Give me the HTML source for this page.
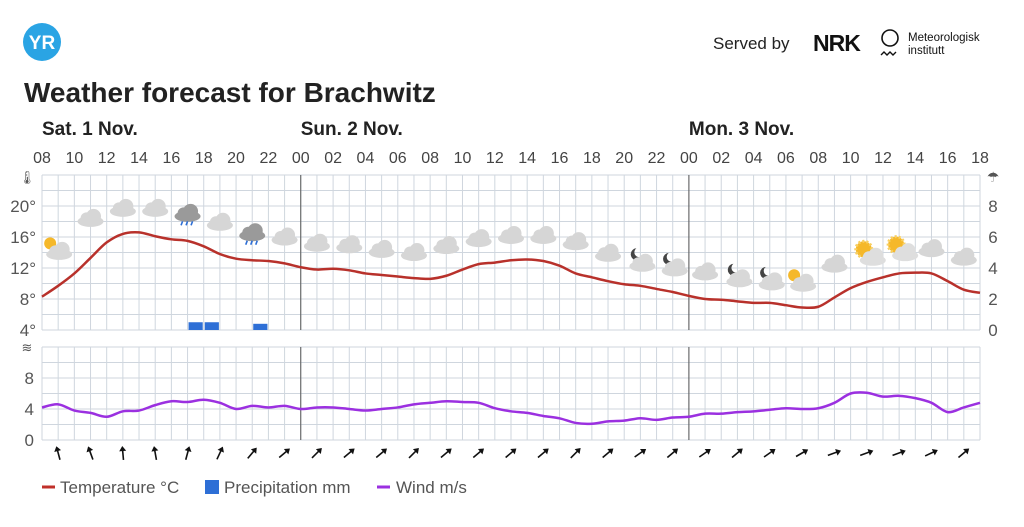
<!DOCTYPE html>
<html><head><meta charset="utf-8"><style>
body{margin:0;background:#fff;width:1024px;height:522px;overflow:hidden;font-family:"Liberation Sans",sans-serif}
svg text{font-family:"Liberation Sans",sans-serif}
</style></head><body>
<svg id="c" width="1024" height="522" xmlns="http://www.w3.org/2000/svg">
<g><circle cx="42" cy="42" r="19" fill="#2aa4e4"/><text x="42" y="49" font-size="19" font-weight="bold" fill="#fff" text-anchor="middle">YR</text></g>
<text x="713" y="49" font-size="17" fill="#222">Served by</text>
<text x="813" y="51" font-size="23" font-weight="900" fill="#111" letter-spacing="-1">NRK</text>
<g><circle cx="890" cy="38" r="8" fill="none" stroke="#111" stroke-width="1.6"/><path d="M881 55 l3-3 3 3 3-3 3 3 3-3" fill="none" stroke="#111" stroke-width="1.4"/>
<text x="908" y="41" font-size="11.5" fill="#111">Meteorologisk</text><text x="908" y="54" font-size="11.5" fill="#111">institutt</text></g>
<text x="24" y="102" font-size="28" font-weight="bold" fill="#222">Weather forecast for Brachwitz</text>
<g id="g"></g>
<g>
<line x1="42" y1="487" x2="55" y2="487" stroke="#c0302a" stroke-width="3"/><text x="60" y="493" font-size="17" fill="#555">Temperature °C</text>
<rect x="205" y="480" width="14" height="14" fill="#2e6fd6"/><text x="224" y="493" font-size="17" fill="#555">Precipitation mm</text>
<line x1="377" y1="487" x2="390" y2="487" stroke="#9b30e0" stroke-width="3"/><text x="396" y="493" font-size="17" fill="#555">Wind m/s</text>
</g>
</svg>
<script>
const hourLabels=["08","10","12","14","16","18","20","22","00","02","04","06","08","10","12","14","16","18","20","22","00","02","04","06","08","10","12","14","16","18"];
const dayLabels=["Sat. 1 Nov.","Sun. 2 Nov.","Mon. 3 Nov."];
const dayStartHours=[0,16,40];
const temps=[8.3,9.7,11.3,13.3,15.3,16.4,16.6,16.1,15.7,15.5,14.8,13.8,13.2,13.0,12.9,12.6,12.1,11.8,11.9,11.7,11.3,11.1,10.9,10.7,10.6,11.0,11.8,12.5,12.7,13.0,13.1,12.9,12.3,11.3,10.8,10.3,9.9,9.7,9.3,8.9,8.4,8.0,7.9,7.7,7.5,7.5,7.2,6.9,7.0,8.2,9.4,10.2,10.8,11.3,11.4,11.3,10.3,9.2,8.8];
const wind=[4.2,4.6,3.8,3.5,3.0,3.7,3.8,4.5,5.0,4.9,5.2,4.8,4.0,4.4,4.2,4.4,4.0,4.2,4.2,4.0,3.8,4.0,4.2,4.6,4.8,5.0,4.9,4.8,4.1,3.7,3.5,3.1,2.8,2.2,2.1,2.4,2.5,2.8,2.6,2.9,3.0,3.4,3.4,3.6,3.7,3.9,4.1,4.0,4.1,4.8,6.0,6.1,5.6,5.7,5.4,4.8,3.6,4.2,4.8];
const precipHours=[9,10,13];
const precipValues=[0.5,0.5,0.4];
const windDir=[-15,-20,-5,-10,15,25,40,50,45,50,50,45,50,50,50,50,45,50,55,50,55,50,55,60,70,70,70,65,50];
const icons=["ps","c","c","c","r","c","r","c","c","c","c","c","c","c","c","c","c","c","m","m","c","m","m","ps","c","s","s","c","c"];
const tempTicks=[4,8,12,16,20];const precTicks=[0,2,4,6,8];const windTicks=[0,4,8];
const NS="http://www.w3.org/2000/svg",G=document.getElementById('g');
const X0=42,X1=980,HRS=58;
const x=h=>X0+(X1-X0)*h/HRS;
const yT=t=>330-(t-4)*(155/20);
const yP=p=>330-p*(155/10);
const yW=w=>440-w*(93/12);
function mk(t,a,p){const e=document.createElementNS(NS,t);for(const k in a)e.setAttribute(k,a[k]);(p||G).appendChild(e);return e;}
function txt(s,a){const e=mk('text',a);e.textContent=s;return e;}
// grid
const grid=mk('g',{});


for(let h=0;h<=HRS;h++){mk('line',{x1:x(h),x2:x(h),y1:175,y2:330,stroke:'#cfd6de','stroke-width':1},grid);mk('line',{x1:x(h),x2:x(h),y1:347,y2:440,stroke:'#cfd6de','stroke-width':1},grid);}
for(let t=4;t<=24;t+=2)mk('line',{x1:X0,x2:X1,y1:yT(t),y2:yT(t),stroke:'#cfd6de'},grid);
for(let w=0;w<=12;w+=2)mk('line',{x1:X0,x2:X1,y1:yW(w),y2:yW(w),stroke:'#cfd6de'},grid);
dayStartHours.slice(1).forEach(h=>{mk('line',{x1:x(h),x2:x(h),y1:175,y2:330,stroke:'#555'},grid);mk('line',{x1:x(h),x2:x(h),y1:347,y2:440,stroke:'#555'},grid);});
// labels
hourLabels.forEach((l,i)=>{const e=txt(l,{x:x(i*2),y:163,'font-size':16,fill:'#444','text-anchor':'middle'});

});
dayLabels.forEach((l,i)=>{const e=txt(l,{x:x(dayStartHours[i]),y:135,'font-size':19,'font-weight':'bold',fill:'#222'});

});
tempTicks.forEach(t=>{const e=txt(t+'°',{x:36,y:yT(t)+6,'font-size':17,fill:'#555','text-anchor':'end'});

});
precTicks.forEach(t=>{const e=txt(t,{x:993,y:yP(t)+6,'font-size':17,fill:'#555','text-anchor':'middle'});

});
windTicks.forEach(t=>{const e=txt(t,{x:34,y:yW(t)+6,'font-size':17,fill:'#555','text-anchor':'end'});

});
txt('🌡',{x:27,y:182,'font-size':13,fill:'#555','text-anchor':'middle'});
txt('☂',{x:993,y:182,'font-size':14,fill:'#555','text-anchor':'middle'});
txt('≋',{x:27,y:352,'font-size':13,fill:'#555','text-anchor':'middle'});
// precip
precipHours.forEach((h,i)=>{const r=mk('rect',{x:x(h)+1,y:yP(precipValues[i]),width:x(1)-X0-2,height:330-yP(precipValues[i]),fill:'#2e6fd6'});

});
// smooth path
function path(vals,fy){let d='';const p=vals.map((v,i)=>[x(i),fy(v)]);d='M'+p[0][0]+' '+p[0][1];
for(let i=0;i<p.length-1;i++){const p0=p[i-1]||p[i],p1=p[i],p2=p[i+1],p3=p[i+2]||p2;
d+=` C${p1[0]+(p2[0]-p0[0])/6} ${p1[1]+(p2[1]-p0[1])/6} ${p2[0]-(p3[0]-p1[0])/6} ${p2[1]-(p3[1]-p1[1])/6} ${p2[0]} ${p2[1]}`;}return d;}
const tl=mk('path',{d:path(temps,yT),fill:'none',stroke:'#b8312b','stroke-width':2.5});


const wl=mk('path',{d:path(wind,yW),fill:'none',stroke:'#9b30e0','stroke-width':2.5});


// icons
function cloud(g,cx,cy,col){mk('ellipse',{cx:cx,cy:cy+3,rx:13,ry:5.5,fill:col},g);mk('circle',{cx:cx-4,cy:cy,r:6,fill:col},g);mk('circle',{cx:cx+3,cy:cy-2,r:7.5,fill:col},g);}
icons.forEach((t,k)=>{const h=2*k+1;const tm=Math.max(temps[h-1],temps[h],temps[h+1]||temps[h]);const cx=x(h),cy=yT(tm)-24;
const g=mk('g',{});


if(t=='ps'){mk('circle',{cx:cx-8,cy:cy-6,r:6,fill:'#f5b82a'},g);cloud(g,cx+1,cy+2,'#d8d8d8');}
else if(t=='s'){mk('circle',{cx:cx-3,cy:cy-4,r:8,fill:'#f5b82a',stroke:'#f8cf60','stroke-width':3,'stroke-dasharray':'2 2'},g);cloud(g,cx+6,cy+4,'#dedede');}
else if(t=='m'){mk('path',{d:`M${cx-4} ${cy-12} a6 6 0 1 0 6 8 a5 5 0 0 1 -6 -8z`,fill:'#444'},g);cloud(g,cx+2,cy+3,'#d8d8d8');}
else if(t=='r'){cloud(g,cx,cy-2,'#9a9a9a');for(let j=-1;j<=1;j++)mk('line',{x1:cx+j*5,y1:cy+6,x2:cx+j*5-1.5,y2:cy+10,stroke:'#2e6fd6','stroke-width':1.6},g);}
else cloud(g,cx,cy,'#d6d6d6');});
// wind arrows
windDir.forEach((a,k)=>{const h=2*k+1;const g=mk('g',{transform:`translate(${x(h)},453) rotate(${a})`});


mk('line',{x1:0,y1:7,x2:0,y2:-5,stroke:'#111','stroke-width':1.6},g);mk('path',{d:'M-3.5 -2 L0 -7 L3.5 -2Z',fill:'#111'},g);});
</script>
</body></html>
